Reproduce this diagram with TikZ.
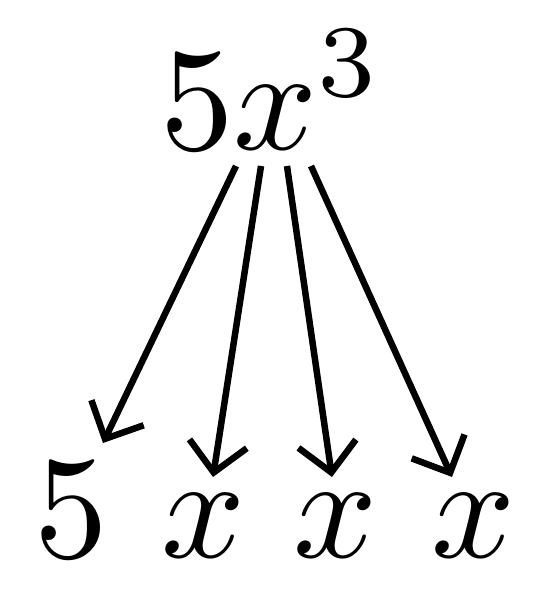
\documentclass[tikz,border=0pt]{standalone}
\usepackage{graphicx}
\usetikzlibrary{arrows.meta}
\newcommand{\hugemath}[1]{\scalebox{14.7}{$#1$}}
\begin{document}
\begin{tikzpicture}[x=1pt,y=-1pt,
  lbl/.style={inner sep=0pt,anchor=base west},
  arr/.style={line width=6.5pt,-{Straight Barb[length=29pt,width=58pt,line width=6.5pt]}}]
\useasboundingbox (0,0) rectangle (540,593);
\node[lbl] (top) at (160,150) {\hugemath{5x^3}};
\node[lbl] (b5) at (34,557) {\hugemath{5}};
\node[lbl] (bx1) at (161,557) {\hugemath{x}};
\node[lbl] (bx2) at (293,557) {\hugemath{x}};
\node[lbl] (bx3) at (431,557) {\hugemath{x}};
\coordinate (s1) at (236,166);
\coordinate (s2) at (261,166);
\coordinate (s3) at (287,166);
\coordinate (s4) at (311,166);
\coordinate (e1) at (103,443);
\coordinate (e2) at (213,477);
\coordinate (e3) at (332,477);
\coordinate (e4) at (452,477);
\draw[arr] (s1) -- (e1);
\draw[arr] (s2) -- (e2);
\draw[arr] (s3) -- (e3);
\draw[arr] (s4) -- (e4);
\end{tikzpicture}
\end{document}
